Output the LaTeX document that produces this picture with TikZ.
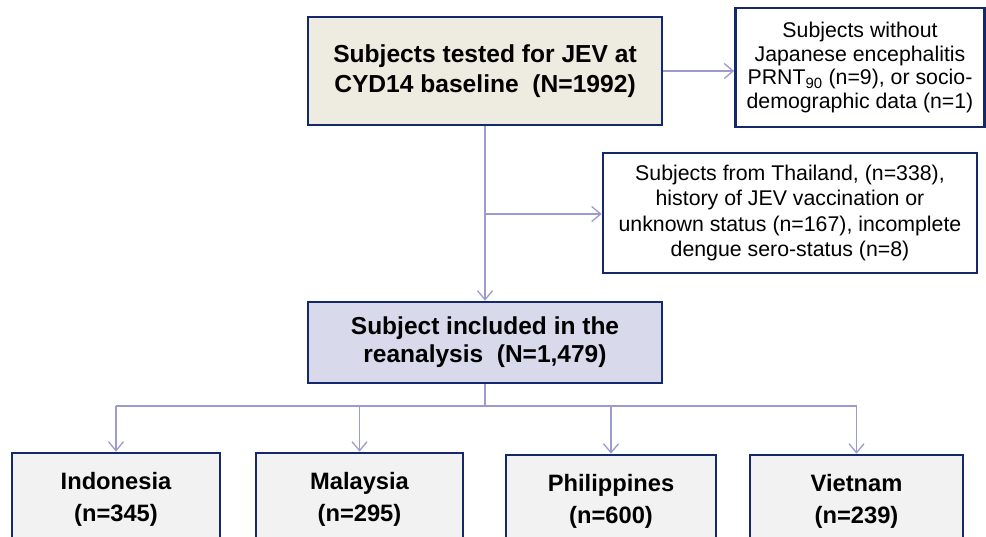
\documentclass[tikz,border=0pt]{standalone}
\usepackage{fontspec}
\setmainfont{Liberation Sans}
\usetikzlibrary{arrows.meta}
\definecolor{navy}{HTML}{14296B}
\definecolor{conncol}{HTML}{9C9AD0}
\definecolor{beige}{HTML}{EEEBE1}
\definecolor{lav}{HTML}{D9D9EC}
\definecolor{lgray}{HTML}{F2F2F2}
\tikzset{
  box/.style={draw=navy, line width=2.6pt, align=center, inner sep=0pt, text=black},
  conn/.style={draw=conncol, line width=1.3pt, -{Straight Barb[length=9pt,width=15pt,line width=1.3pt]}},
  plain/.style={draw=conncol, line width=1.3pt},
}
\begin{document}
\begin{tikzpicture}[x=1pt,y=-1pt]
\useasboundingbox (0,0) rectangle (986,537);
\clip (0,0) rectangle (986,537);
\node[box, fill=beige, minimum width=354pt, minimum height=108pt, font=\bfseries\fontsize{24.6}{30}\selectfont] (top) at (485,71)
  {Subjects tested for JEV at\\CYD14 baseline\ \ (N=1992)};
\node[box, fill=white, minimum width=249pt, minimum height=119pt, font=\fontsize{21.3}{23.5}\selectfont] (r1) at (860,67.5)
  {Subjects without\\Japanese encephalitis\\PRNT\textsubscript{90} (n=9), or socio-\\demographic data (n=1)};
\node[box, fill=white, minimum width=374pt, minimum height=120pt, font=\fontsize{21.3}{25.5}\selectfont] (r2) at (790,213)
  {Subjects from Thailand, (n=338),\\history of JEV vaccination or\\unknown status (n=167), incomplete\\dengue sero-status (n=8)};
\node[box, fill=lav, minimum width=354pt, minimum height=81pt, font=\bfseries\fontsize{24.5}{28}\selectfont] (mid) at (485,342.5)
  {Subject included in the\\reanalysis\ \ (N=1,479)};
\node[box, fill=lgray, minimum width=208pt, minimum height=92pt, font=\bfseries\fontsize{23.7}{32}\selectfont] (c1) at (116,499)
  {Indonesia\\(n=345)};
\node[box, fill=lgray, minimum width=207pt, minimum height=92pt, font=\bfseries\fontsize{23.7}{32}\selectfont] (c2) at (359.5,499)
  {Malaysia\\(n=295)};
\node[box, fill=lgray, minimum width=210pt, minimum height=92pt, font=\bfseries\fontsize{23.7}{32}\selectfont] (c3) at (611,501)
  {Philippines\\(n=600)};
\node[box, fill=lgray, minimum width=213pt, minimum height=92pt, font=\bfseries\fontsize{23.7}{32}\selectfont] (c4) at (856.5,501)
  {Vietnam\\(n=239)};
\coordinate (b1) at (485,214);
\coordinate (split) at (485,406);
\draw[conn] (top.east) -- (top.east -| r1.west);
\draw[conn] (top.south) -- (mid.north);
\draw[conn] (b1) -- (b1 -| r2.west);
\draw[plain] (mid.south) -- (split);
\draw[plain] (split -| c1.north) -- (split -| c4.north);
\draw[conn] (split -| c1.north) -- (c1.north);
\draw[conn] (split -| c2.north) -- (c2.north);
\draw[conn] (split -| c3.north) -- (c3.north);
\draw[conn] (split -| c4.north) -- (c4.north);
\end{tikzpicture}
\end{document}
